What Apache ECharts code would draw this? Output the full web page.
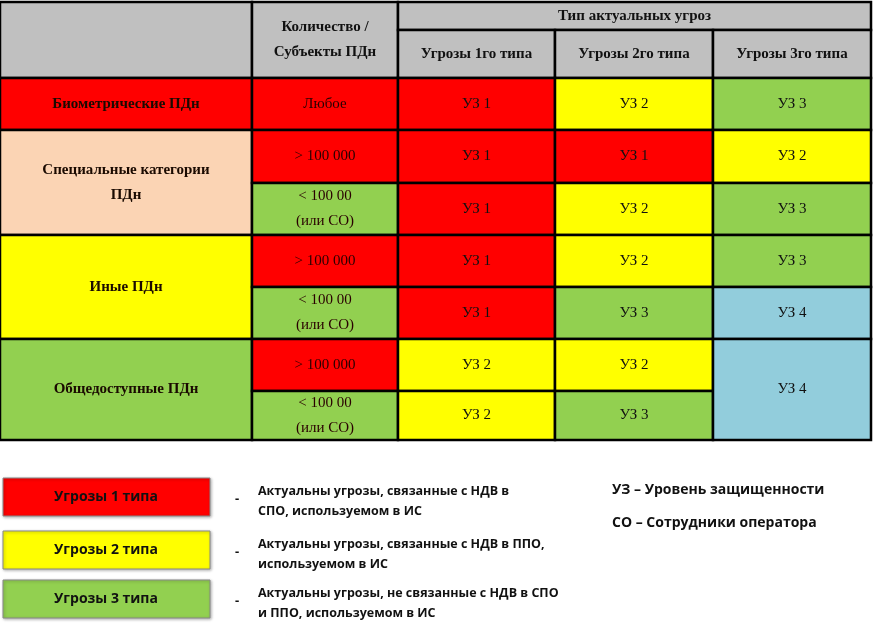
<!DOCTYPE html>
<html><head><meta charset="utf-8">
<script src="https://cdn.jsdelivr.net/npm/echarts@6/dist/echarts.min.js"></script>
<style>html,body{margin:0;padding:0;background:#fff}#c{width:874px;height:625px}</style>
</head><body><div id="c"></div>
<script>
// ---- data ----
const threatTypes = ['Угрозы 1го типа','Угрозы 2го типа','Угрозы 3го типа'];
const categories = ['Биометрические ПДн','Специальные категории\nПДн','Иные ПДн','Общедоступные ПДн'];
const categoryRows = [[0,1],[1,3],[3,5],[5,7]];
const categoryColors = ['#FF0000','#FBD4B4','#FFFF00','#92D050'];
const counts = ['Любое','> 100 000','< 100 00\n(или СО)','> 100 000','< 100 00\n(или СО)','> 100 000','< 100 00\n(или СО)'];
const countColors = ['#FF0000','#FF0000','#92D050','#FF0000','#92D050','#FF0000','#92D050'];
const levels1 = ['УЗ 1','УЗ 1','УЗ 1','УЗ 1','УЗ 1','УЗ 2','УЗ 2'];
const levels2 = ['УЗ 2','УЗ 1','УЗ 2','УЗ 2','УЗ 3','УЗ 2','УЗ 3'];
const levels3 = ['УЗ 3','УЗ 2','УЗ 3','УЗ 3','УЗ 4','УЗ 4',null];
const levelColors = {'УЗ 1':'#FF0000','УЗ 2':'#FFFF00','УЗ 3':'#92D050','УЗ 4':'#92CDDC'};
const legendNames = ['Угрозы 1 типа','Угрозы 2 типа','Угрозы 3 типа'];
const legendColors = ['#FF0000','#FFFF00','#92D050'];
const legendDescr = ['Актуальны угрозы, связанные с НДВ в\nСПО, используемом в ИС','Актуальны угрозы, связанные с НДВ в ППО,\nиспользуемом в ИС','Актуальны угрозы, не связанные с НДВ в СПО\nи ППО, используемом в ИС'];
const notes = ['УЗ – Уровень защищенности','СО – Сотрудники оператора'];

// ---- layout ----
const colEdges = [0,252,398,555,713,871];
const rowEdges = [78,130,183,235,287,339,391,440];
const SERIF = '"Liberation Serif", "DejaVu Serif", serif';
const SANS = '"Open Sans", "Liberation Sans", sans-serif';

// cells: [c0,c1,y0,y1,fill,text,font,size,weight,color]
const cells = [];
cells.push([0,1,2,78,'#C0C0C0','','',0,'','']);
cells.push([1,2,2,78,'#C0C0C0','Количество /\nСубъекты ПДн',SERIF,15,'bold','#111']);
cells.push([2,5,2,30,'#C0C0C0','Тип актуальных угроз',SERIF,15,'bold','#111']);
threatTypes.forEach((t,i)=>cells.push([2+i,3+i,30,78,'#C0C0C0',t,SERIF,15,'bold','#111']));
categories.forEach((c,i)=>cells.push([0,1,rowEdges[categoryRows[i][0]],rowEdges[categoryRows[i][1]],categoryColors[i],c,SERIF,15,'bold','#1a0a00']));
counts.forEach((c,i)=>cells.push([1,2,rowEdges[i],rowEdges[i+1],countColors[i],c,SERIF,15,'normal','#2a0000']));
[levels1,levels2,levels3].forEach((arr,j)=>arr.forEach((v,i)=>{
  if(v===null) return;
  const end = (j===2 && i===5) ? rowEdges[7] : rowEdges[i+1];
  cells.push([2+j,3+j,rowEdges[i],end,levelColors[v],v,SERIF,15,'normal','#111']);
}));

const chart = echarts.init(document.getElementById('c'));
chart.setOption({
  animation:false,
  grid:{left:0,right:0,top:0,bottom:0},
  xAxis:{type:'value',min:0,max:874,show:false},
  yAxis:{type:'value',min:0,max:625,inverse:true,show:false},
  series:[{
    type:'custom',
    data:cells.map((c,i)=>[i]),
    renderItem:(params,api)=>{
      const c = cells[api.value(0)];
      const p0 = api.coord([colEdges[c[0]],c[2]]);
      const p1 = api.coord([colEdges[c[1]],c[3]]);
      return {type:'group',children:[
        {type:'rect',shape:{x:p0[0],y:p0[1],width:p1[0]-p0[0],height:p1[1]-p0[1]},
         style:{fill:c[4],stroke:'#000',lineWidth:2.5}},
        {type:'text',style:{x:(p0[0]+p1[0])/2,y:(p0[1]+p1[1])/2,text:c[5],align:'center',verticalAlign:'middle',
          font:c[8]+' '+c[7]+'px '+c[6],fill:c[9],lineHeight:25}}
      ]};
    }
  }],
  graphic:[
    {type:'line',shape:{x1:8,y1:75,x2:250,y2:4},style:{stroke:'#000',lineWidth:1}},
    {type:'text',left:8,top:8,style:{text:'Категория',font:'bold 17px '+SANS,fill:'#111'}},
    {type:'text',left:36,top:37,style:{text:'ПДн',font:'bold 17px '+SANS,fill:'#111'}},
    {type:'text',left:142,top:40,style:{text:'Тип угроз',font:'bold 17px '+SANS,fill:'#111'}},
    ...legendNames.flatMap((n,i)=>{
      const y=[478,531,580][i];
      return [
        {type:'rect',shape:{x:3,y:y,width:207,height:38},style:{fill:legendColors[i],stroke:'#888',lineWidth:1,shadowBlur:3,shadowColor:'rgba(0,0,0,0.3)',shadowOffsetX:1,shadowOffsetY:1}},
        {type:'text',style:{x:106,y:y+19,text:n,align:'center',verticalAlign:'middle',font:'bold 14px '+SANS,fill:'#111'}},
        {type:'text',style:{x:237,y:y+21,text:'-',align:'center',verticalAlign:'middle',font:'bold 13px '+SANS,fill:'#111'}},
        {type:'text',style:{x:258,y:y+3,text:legendDescr[i],font:'bold 12.5px '+SANS,fill:'#111',lineHeight:20}}
      ];
    }),
    {type:'text',style:{x:612,y:483,text:notes[0],font:'bold 14px '+SANS,fill:'#111'}},
    {type:'text',style:{x:612,y:516,text:notes[1],font:'bold 14px '+SANS,fill:'#111'}}
  ]
});
</script></body></html>
